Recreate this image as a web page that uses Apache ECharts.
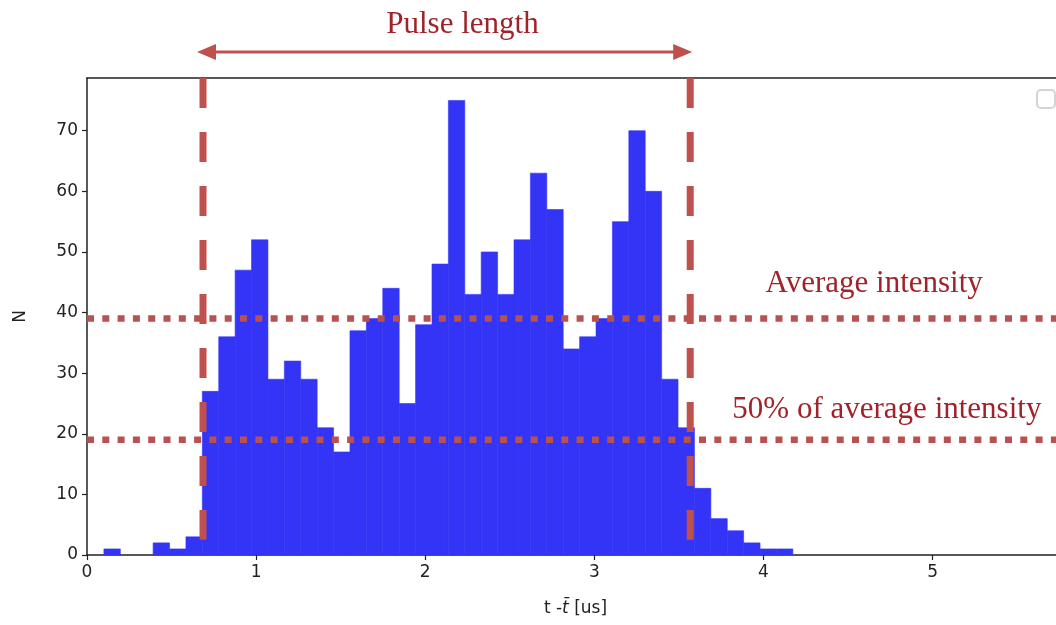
<!DOCTYPE html>
<html>
<head>
<meta charset="utf-8">
<script src="https://cdn.jsdelivr.net/npm/echarts@6/dist/echarts.min.js"></script>
<style>html,body{margin:0;padding:0;background:#fff}#c{width:1056px;height:625px}</style>
</head>
<body>
<div id="c"></div>
<script>
// ---- data ----
const binStart = 0.1;      // left edge of first bin (us)
const binWidth = 0.097;    // bin width (us)
const counts = [1,0,0,2,1,3,27,36,47,52,29,32,29,21,17,37,39,44,25,38,48,75,43,50,43,52,63,57,34,36,39,55,70,60,29,21,11,6,4,2,1,1];
const xTicks = [0,1,2,3,4,5];
const yTicks = [0,10,20,30,40,50,60,70];
const avgIntensity = 39;
const halfIntensity = 19;
const pulseStart = 0.686;
const pulseEnd = 3.567;
const xMax = 5.73;
const yMax = 78.7;
const dashBottom = 2.5;

const histData = counts.map((c, i) => [binStart + i * binWidth, binStart + (i + 1) * binWidth, c]);

const RED = '#c0504d';
const TXT = '#a0222a';

const chart = echarts.init(document.getElementById('c'));
chart.setOption({
  animation: false,
  backgroundColor: '#fff',
  grid: { left: 87, top: 78, right: 0, bottom: 70 },
  xAxis: [{
    type: 'value', min: 0, max: xMax, interval: 1,
    name: 't -{it|t\u0304} [us]', nameLocation: 'middle', nameGap: 45,
    nameTextStyle: { fontFamily: 'DejaVu Sans', fontSize: 17, color: '#222', padding: [0, 0, 0, 8],
      rich: { it: { fontStyle: 'italic', fontFamily: 'DejaVu Sans', fontSize: 17, color: '#222' } } },
    axisLine: { show: true, onZero: false, lineStyle: { color: '#222', width: 1.5 } },
    axisTick: { show: true, length: 5, lineStyle: { color: '#222', width: 1.2 }, customValues: xTicks },
    axisLabel: { fontFamily: 'DejaVu Sans', fontSize: 17, color: '#222', margin: 9, customValues: xTicks },
    splitLine: { show: false }
  }, {
    type: 'value', position: 'top', min: 0, max: xMax,
    axisLine: { show: true, onZero: false, lineStyle: { color: '#222', width: 1.5 } },
    axisTick: { show: false }, axisLabel: { show: false }, splitLine: { show: false }
  }],
  yAxis: {
    type: 'value', min: 0, max: yMax, interval: 10,
    name: 'N', nameLocation: 'middle', nameGap: 58, nameRotate: 90,
    nameTextStyle: { fontFamily: 'DejaVu Sans', fontSize: 17, color: '#222' },
    axisLine: { show: true, onZero: false, lineStyle: { color: '#222', width: 1.5 } },
    axisTick: { show: true, length: 5, lineStyle: { color: '#222', width: 1.2 }, customValues: yTicks },
    axisLabel: { fontFamily: 'DejaVu Sans', fontSize: 17, color: '#222', margin: 9, customValues: yTicks },
    splitLine: { show: false }
  },
  series: [
    {
      type: 'custom',
      data: histData,
      encode: { x: [0, 1], y: 2 },
      renderItem: function (params, api) {
        const h = api.value(2);
        if (!h) return null;
        const p0 = api.coord([api.value(0), 0]);
        const p1 = api.coord([api.value(1), h]);
        return { type: 'rect', shape: { x: p0[0], y: p1[1], width: p1[0] - p0[0], height: p0[1] - p1[1] },
          style: { fill: '#3434f6', stroke: '#3434f6', lineWidth: 0.6 } };
      },
      z: 1
    },
    { type: 'line', data: [[0, avgIntensity], [xMax, avgIntensity]], showSymbol: false, symbol: 'none', z: 3,
      lineStyle: { color: '#b9514e', width: 6.5, type: [7, 8.3], cap: 'butt' } },
    { type: 'line', data: [[0, halfIntensity], [xMax, halfIntensity]], showSymbol: false, symbol: 'none', z: 3,
      lineStyle: { color: '#b9514e', width: 6.5, type: [7, 8.3], cap: 'butt' } },
    { type: 'line', data: [[pulseStart, yMax], [pulseStart, dashBottom]], showSymbol: false, symbol: 'none', z: 4,
      lineStyle: { color: RED, width: 7, type: [30, 24], cap: 'butt' } },
    { type: 'line', data: [[pulseEnd, yMax], [pulseEnd, dashBottom]], showSymbol: false, symbol: 'none', z: 4,
      lineStyle: { color: RED, width: 7, type: [30, 24], cap: 'butt' } }
  ]
});

// annotations placed via the chart's own scales
const px = (x, y) => chart.convertToPixel({ gridIndex: 0 }, [x, y]);
const a0 = px(pulseStart, 83), a1 = px(pulseEnd, 83);
const lx = a0[0] - 6, rx = a1[0] + 2, ay = a0[1];
const t1 = px(2.22, 87.5), t2 = px(4.655, 44.8), t3 = px(4.73, 23.9);
const serif = { fontFamily: '"Liberation Serif", "Times New Roman", serif', fontSize: 31, fill: TXT };
chart.setOption({
  graphic: [
    { type: 'line', shape: { x1: lx + 14, y1: ay, x2: rx - 14, y2: ay }, style: { stroke: RED, lineWidth: 3 } },
    { type: 'polygon', shape: { points: [[lx, ay], [lx + 19, ay - 8], [lx + 19, ay + 8]] }, style: { fill: RED } },
    { type: 'polygon', shape: { points: [[rx, ay], [rx - 19, ay - 8], [rx - 19, ay + 8]] }, style: { fill: RED } },
    { type: 'text', x: t1[0], y: t1[1], style: Object.assign({ text: 'Pulse length', align: 'center', verticalAlign: 'middle' }, serif) },
    { type: 'text', x: t2[0], y: t2[1], style: Object.assign({ text: 'Average intensity', align: 'center', verticalAlign: 'middle' }, serif) },
    { type: 'text', x: t3[0], y: t3[1], style: Object.assign({ text: '50% of average intensity', align: 'center', verticalAlign: 'middle' }, serif) },
    { type: 'rect', left: 1036, top: 89, shape: { width: 18, height: 18, r: 4 }, style: { fill: '#fff', stroke: '#d4d4d4', lineWidth: 2 } }
  ]
});
</script>
</body>
</html>
